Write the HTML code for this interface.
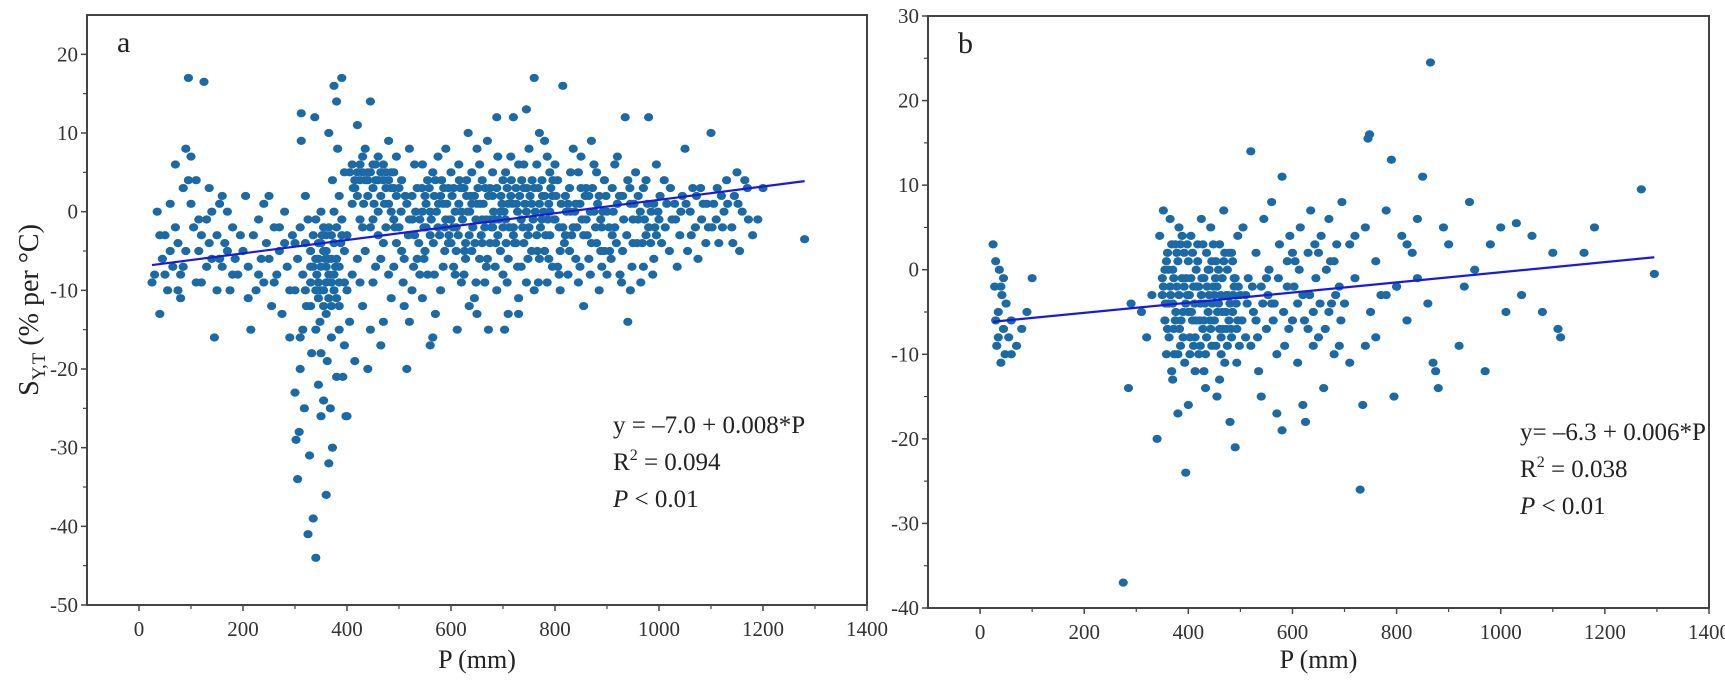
<!DOCTYPE html>
<html><head><meta charset="utf-8"><style>
html,body{margin:0;padding:0;background:#fff;}
svg{display:block;font-family:"Liberation Serif",serif;}
</style></head><body>
<svg id="chart" width="1725" height="686" viewBox="0 0 1725 686" xmlns="http://www.w3.org/2000/svg">
<g id="panelA"></g>
<g id="panelB"></g>
<text transform="translate(38,310) rotate(-90)" text-anchor="middle" font-size="28" fill="#222">S<tspan font-size="19" dy="7">Y,T</tspan><tspan dy="-7"> (% per °C)</tspan></text>
</svg>
<script>
const ticksX = [0,200,400,600,800,1000,1200,1400];
const ticksYA = [20,10,0,-10,-20,-30,-40,-50];
const ticksYB = [30,20,10,0,-10,-20,-30,-40];
const ptsA = [[25,-9],[30,-8],[35,0],[40,-13],[45,-6],[50,-3],[55,-10],[60,1],[65,-7],[70,6],[75,-4],[80,-8],[85,3],[90,8],[95,17],[100,7],[105,-2],[110,4],[115,-5],[120,-9],[125,16.5],[130,-1],[135,3],[140,-6],[145,-16],[150,-3],[155,1],[160,-7],[165,-4],[170,0],[175,-10],[180,-2],[185,-6],[190,-8],[195,-3],[60,-5],[70,-2],[80,-11],[90,-5],[100,1],[110,-9],[120,-3],[130,-7],[140,0],[150,-10],[160,2],[170,-5],[180,-8],[40,-3],[50,-8],[95,4],[115,-1],[135,-4],[155,-6],[75,-10],[85,-7],
[200,-5],[205,2],[210,-7],[215,-15],[220,-3],[225,-10],[230,-1],[235,-6],[240,-9],[245,-4],[250,2],[255,-12],[260,-2],[265,-8],[270,-5],[275,-13],[280,0],[285,-7],[290,-10],[295,-3],[230,-8],[250,-6],[270,-2],[290,-16],[210,-11],[260,-9],[280,-4],[240,1],
[300,-23],[302,-29],[305,-34],[308,-28],[310,-20],[312,9],[315,-15],[318,-25],[320,-10],[322,-12],[325,-41],[328,-31],[330,-5],[332,-18],[335,-39],[338,12],[340,-44],[342,-8],[345,-22],[348,-14],[350,-26],[352,-3],[355,-10],[358,-6],[360,-36],[362,-19],[365,-32],[368,-25],[370,-12],[372,4],[375,16],[378,-7],[380,-21],[382,8],[385,-15],[388,-4],[390,17],[392,-21],[395,-9],[398,-26],[305,-6],[310,-2],[315,-8],[320,-4],[325,-1],[330,-9],[335,-3],[340,-6],[345,-11],[350,-7],[355,-2],[360,-5],[365,-8],[370,-3],[375,-10],[380,-6],[385,-9],[390,-1],[395,-5],[330,-12],[340,-15],[350,-18],[360,-13],[370,-16],[345,-4],[355,-12],[365,-2],[375,0],[385,2],[395,5],[320,2],[310,-16],[300,-10],[300,-4],[312,12.5],[365,10],[380,14],[372,-30],[355,-24],[340,-1],[360,-9],[350,0],[380,-11],[395,-17],
[335,-7],[345,-9],[355,-5],[365,-6],[375,-4],[385,-7],[345,-6],[365,-11],[375,-8],[385,-12],[360,-3],[350,-10],[370,-9],[390,-3],[380,-2],[340,-10],[330,-7],[360,-7],[370,-6],[350,-4],
[400,-3],[405,5],[410,-8],[415,3],[420,11],[425,-1],[430,7],[435,-5],[440,2],[445,14],[450,-9],[455,4],[460,0],[465,-6],[470,6],[475,-2],[480,9],[485,-11],[490,3],[495,-4],[400,-10],[410,1],[420,-6],[430,-12],[440,-20],[450,6],[460,-3],[470,-14],[480,1],[490,-7],[405,-14],[415,-19],[425,4],[435,8],[445,-2],[455,-7],[465,2],[475,5],[485,0],[495,7],[410,6],[420,2],[430,-2],[440,5],[450,-1],[460,7],[470,-4],[480,-8],[490,-1],[400,-26],[425,-9],[445,-15],[465,-17],[485,3],
[415,4],[425,6],[435,4],[445,5],[455,6],[465,5],[475,3],[485,5],[495,2],[420,5],[430,5],[440,4],[450,3],[460,4],[470,4],[480,4],[490,5],[412,3],[432,1],[452,1],[472,1],[492,-2],
[500,-2],[505,4],[510,-6],[515,1],[520,8],[525,-10],[530,-3],[535,3],[540,-1],[545,6],[550,-5],[555,-8],[560,0],[565,5],[570,-13],[575,-2],[580,2],[585,-7],[590,8],[595,-4],[500,3],[510,-12],[520,-1],[530,6],[540,-8],[550,2],[560,-3],[570,4],[580,-10],[590,-1],[505,-5],[515,-20],[525,2],[535,-6],[545,0],[555,4],[565,-16],[575,7],[585,1],[595,3],[520,-14],[560,-17],[545,-11],
[600,-1],[605,3],[610,-5],[615,6],[620,0],[625,-8],[630,2],[635,-3],[640,5],[645,-11],[650,1],[655,-6],[660,4],[665,-2],[670,9],[675,-4],[680,2],[685,-7],[690,7],[695,0],[600,5],[610,-2],[620,-9],[630,4],[640,-5],[650,8],[660,-1],[670,-6],[680,5],[690,-3],[605,-7],[615,1],[625,3],[635,-12],[645,2],[655,6],[665,-9],[675,3],[685,-1],[695,-5],[600,-4],[620,3],[640,1],[660,-4],[680,-2],[700,4],[612,-15],[650,-13],[672,-15],[633,10],[688,12],
[700,-2],[705,5],[710,-6],[715,2],[720,12],[725,-4],[730,6],[735,-1],[740,3],[745,-9],[750,8],[755,1],[760,17],[765,-3],[770,10],[775,4],[780,-5],[785,7],[790,0],[795,-7],[700,-8],[710,1],[720,-3],[730,-11],[740,6],[750,-2],[760,3],[770,-6],[780,2],[790,5],[705,-1],[715,7],[725,3],[735,-7],[745,0],[755,-5],[765,6],[775,-1],[785,-9],[795,2],[710,-13],[730,-13],[760,-10],[780,9],[720,-2],[740,-4],[770,1],[790,-3],[703,-15],[745,13],
[800,-1],[805,4],[810,-5],[815,16],[820,2],[825,-8],[830,5],[835,-2],[840,1],[845,-9],[850,7],[855,-3],[860,3],[865,-6],[870,9],[875,0],[880,-4],[885,2],[890,-7],[895,4],[800,6],[810,-10],[820,-3],[830,0],[840,-6],[850,3],[860,-1],[870,-4],[880,5],[890,-2],[805,-7],[825,1],[845,5],[865,2],[885,-10],[815,-2],[835,8],[855,-12],[875,6],[895,-5],
[900,0],[905,-5],[910,3],[915,-2],[920,7],[925,-8],[930,2],[935,12],[940,-14],[945,1],[950,-4],[955,5],[960,-1],[965,-9],[970,3],[975,-3],[980,12],[985,0],[990,-6],[995,6],[900,-8],[910,-3],[920,1],[930,-5],[940,4],[950,-1],[960,2],[970,-7],[980,-2],[990,1],[915,6],[945,-10],[975,4],[995,-3],
[1000,-1],[1010,4],[1020,-5],[1030,1],[1040,-3],[1050,8],[1060,0],[1070,-2],[1080,3],[1090,-4],[1100,10],[1110,-1],[1120,2],[1130,4],[1140,-2],[1150,5],[1160,0],[1170,3],[1180,-3],[1200,3],[1005,-4],[1015,1],[1025,-1],[1035,-7],[1045,2],[1055,-5],[1065,3],[1075,-6],[1085,1],[1095,-2],[1105,1],[1115,-4],[1125,0],[1145,2],[1155,-5],[1165,4],[1190,-1],[1280,-3.5]];
const denseA = [[552,1],[558,3],[562,-1],[568,2],[572,0],[578,-3],[582,4],[588,-2],[592,1],[598,-1],[552,-2],[566,-4],[576,1],[586,3],[596,-3],[602,2],[608,0],[614,-3],[618,3],[622,-1],[628,-4],[632,0],[638,2],[642,-2],[648,-1],[652,3],[658,-3],[662,1],[668,-1],[672,2],[678,-2],[682,0],[688,3],[692,-1],[698,1],[604,-2],[616,4],[626,-5],[636,0],[646,-4],[656,1],[666,3],[676,-1],[686,-4],[696,2],
[702,0],[708,3],[712,-2],[718,1],[722,-4],[728,0],[732,2],[738,-2],[742,1],[748,-3],[752,2],[758,-1],[762,0],[768,3],[772,-2],[778,0],[782,-3],[788,1],[792,3],[798,-1],[706,-4],[716,4],[726,1],[736,4],[746,3],[756,4],[766,-5],[776,2],[786,-1],[796,4],
[802,2],[808,-2],[812,1],[818,-4],[822,0],[828,3],[832,-3],[838,0],[842,-2],[848,1],[852,-1],[858,2],[862,-3],[868,0],[872,3],[878,-2],[882,1],[888,-1],[892,0],[898,2],[904,-2],[912,0],[918,-4],[924,2],[932,-1],[938,-3],[944,3],[952,1],[958,-4],[964,0],[972,-1],[978,1],[984,-4],[992,-2],[998,0],
[504,0],[512,2],[518,-3],[526,-1],[532,0],[538,-4],[544,3],[548,-2],[508,-9],[528,-7],[548,-6],[568,-8],[588,-5],[608,-8],[628,-6],[648,-9],[668,-7],[688,-10],[708,-9],[728,-7],[748,-6],[768,-9],[788,-6],[808,-8],[828,-5],[848,-7],[868,-8],[888,-5],[908,-6],[928,-9],[948,-7],[968,-4],[988,-8],
[1002,2],[1012,-2],[1022,3],[1032,-1],[1042,0],[1052,1],[1062,-3],[1072,2],[1082,-1],[1092,1],[1102,-2],[1112,3],[1122,-2],[1132,1],[1142,-4],[1152,1],[1172,-1]];
const ptsB = [[25,3],[28,-2],[30,1],[32,-9],[35,-5],[37,0],[40,-11],[42,-3],[45,-7],[48,-10],[50,-4],[55,-8],[60,-6],[70,-9],[80,-7],[90,-5],[100,-1],[40,-2],[30,-6],[35,-8],[45,-1],[60,-10],
[275,-37],[285,-14],[290,-4],
[310,-5],[320,-8],[330,-3],[340,-20],[345,4],[350,-1],[352,7],[355,-6],[358,-10],[360,2],[362,-4],[365,6],[368,-12],[370,0],[372,-7],[375,3],[378,-2],[380,-17],[382,5],[385,-9],[388,-1],[390,-5],[392,2],[395,-24],[398,-3],[400,1],[403,-8],[405,4],[408,-6],[410,-2],[413,-12],[415,0],[418,3],[420,-10],[423,-4],[425,6],[428,-7],[430,-1],[433,-14],[435,2],[438,-5],[440,-3],[443,5],[445,-9],[448,-2],[450,-6],[453,1],[455,-15],[458,-4],[460,3],[463,-8],[465,-1],[468,7],[470,-11],[473,-3],[475,0],[478,-6],[480,-18],[483,2],[485,-5],[488,-2],[490,-21],[493,-7],[495,4],[498,-9],[350,-3],[360,-7],[370,-4],[380,1],[390,-8],[400,-5],[410,-9],[420,-2],[430,-6],[440,0],[450,-3],[460,-7],[470,2],[480,-4],[490,-1],[355,0],[365,-2],[375,-6],[385,3],[395,-4],[405,-1],[415,-6],[425,-3],[435,-8],[445,1],[455,-2],[465,-5],[475,-9],[485,1],[495,-6],[370,-13],[400,-16],[430,-12],[460,-13],[380,-10],
[500,-3],[505,5],[510,-8],[515,-1],[520,14],[525,-5],[530,2],[535,-12],[540,-2],[545,6],[550,-7],[555,0],[560,8],[565,-4],[570,-17],[575,3],[580,11],[585,-9],[590,-2],[595,4],[600,-6],[605,1],[610,-11],[615,5],[620,-3],[625,-18],[630,2],[635,7],[640,-5],[645,-1],[650,-8],[655,4],[660,-14],[665,0],[670,6],[675,-4],[680,-10],[685,3],[690,-2],[695,8],[510,-3],[530,-6],[550,-1],[570,-10],[590,1],[610,-4],[630,-7],[650,2],[670,-5],[690,-9],[520,-9],[560,-4],[600,2],[640,-9],[680,1],[540,-15],[580,-19],[620,-16],
[700,-4],[710,3],[720,-1],[730,-26],[735,-16],[740,5],[745,15.5],[748,16],[750,-5],[760,1],[770,-3],[780,7],[790,13],[795,-15],[800,-2],[810,4],[820,-6],[830,2],[840,-1],[850,11],[860,-4],[865,24.5],[870,-11],[875,-12],[880,-14],[890,5],[900,3],[920,-9],[930,-2],[940,8],[950,0],[970,-12],[980,3],[1000,5],[1010,-5],[1030,5.5],[1040,-3],[1060,4],[1080,-5],[1100,2],[1110,-7],[1115,-8],[1160,2],[1180,5],[1270,9.5],[1295,-0.5],[720,4],[760,-8],[800,-2],[820,3],[710,-11],[740,-9],[780,-3],[840,6]];
const denseB = [[352,-2],[356,-4],[362,0],[366,-3],[372,-1],[376,-5],[382,-3],[386,-6],[392,-2],[396,-1],[402,-3],[406,-5],[412,-4],[416,-2],[422,-6],[426,-1],[432,-4],[436,-2],[442,-6],[446,-4],[452,-1],[456,-5],[462,-3],[466,-7],[472,-5],[476,-3],[482,-7],[486,-3],[492,-4],[496,-2],[358,1],[368,3],[378,2],[388,4],[398,3],[408,2],[418,1],[428,3],[438,0],[448,3],[458,0],[468,1],[478,2],[488,-1],[363,-8],[373,-10],[383,-7],[393,-11],[403,-10],[413,-8],[423,-9],[433,-10],[443,-7],[453,-9],[463,-10],[473,-7],[483,-8],[493,-11],[503,-6],[513,-4],[523,-2],[533,-8],[543,-4],[553,-3],[563,-6],[573,-1],[583,-5],[593,-7],[603,-2],[613,0],[623,-6],[633,-3],[643,3],[653,-4],[663,-7],[673,1],[683,-3],[693,-6]];
const fitA = [-7.0, 0.0085, 25, 1280];
const fitB = [-6.3, 0.006, 25, 1295];

const NS = "http://www.w3.org/2000/svg";
function mk(parent, tag, attrs, txt){
  const e = document.createElementNS(NS, tag);
  for (const k in attrs) e.setAttribute(k, attrs[k]);
  if (txt !== undefined) e.textContent = txt;
  parent.appendChild(e);
  return e;
}
function drawPanel(g, box, yMin, yMax, yTicks, pts, fit, letter, eq, r2){
  const xs = v => box.l + (v + 100) / 1500 * (box.r - box.l);
  const ys = v => box.b - (v - yMin) / (yMax - yMin) * (box.b - box.t);
  const pg = mk(g, "g", {});
  
  
  pts.forEach(p => {
    const c = mk(pg, "ellipse", {cx: xs(p[0]), cy: ys(p[1]), rx: 4.6, ry: 4.1, fill: "#1b6aa5"});
    
    
  });
  const ln = mk(g, "line", {x1: xs(fit[2]), y1: ys(fit[0] + fit[1] * fit[2]), x2: xs(fit[3]), y2: ys(fit[0] + fit[1] * fit[3]), stroke: "#1a1adf", "stroke-width": 2.2});
  
  
  const fr = mk(g, "rect", {x: box.l, y: box.t, width: box.r - box.l, height: box.b - box.t, fill: "none", stroke: "#444", "stroke-width": 2});
  
  
  yTicks.forEach(v => {
    mk(g, "line", {x1: box.l - 6, x2: box.l, y1: ys(v), y2: ys(v), stroke: "#444", "stroke-width": 1.5});
    if (v - 5 >= yMin) mk(g, "line", {x1: box.l - 4, x2: box.l, y1: ys(v - 5), y2: ys(v - 5), stroke: "#444", "stroke-width": 1.2});
    const t = mk(g, "text", {x: box.l - 9, y: ys(v) + 7, "text-anchor": "end", "font-size": 21, fill: "#333"}, String(v));
    
    
  });
  ticksX.forEach(v => {
    mk(g, "line", {x1: xs(v), x2: xs(v), y1: box.b, y2: box.b + 6, stroke: "#444", "stroke-width": 1.5});
    if (v < 1400) mk(g, "line", {x1: xs(v + 100), x2: xs(v + 100), y1: box.b, y2: box.b + 4, stroke: "#444", "stroke-width": 1.2});
    const t = mk(g, "text", {x: xs(v), y: box.b + 31, "text-anchor": "middle", "font-size": 21, fill: "#333"}, String(v));
    
    
  });
  const xt = mk(g, "text", {x: (box.l + box.r) / 2, y: 668, "text-anchor": "middle", "font-size": 26, fill: "#222"}, "P (mm)");
  
  
  const pl = mk(g, "text", {x: box.l + 30, y: box.t + 37, "font-size": 30, fill: "#222"}, letter);
  
  
  const ex = eq.x, ey = eq.y;
  const e1 = mk(g, "text", {x: ex, y: ey, "font-size": 25, fill: "#222"}, eq.t);
  
  
  const e2 = mk(g, "text", {x: ex, y: ey + 37, "font-size": 25, fill: "#222"});
  
  
  e2.innerHTML = 'R<tspan font-size="16" dy="-10">2</tspan><tspan dy="10"> = ' + r2 + '</tspan>';
  const e3 = mk(g, "text", {x: ex, y: ey + 74, "font-size": 25, fill: "#222"});
  
  
  e3.innerHTML = '<tspan font-style="italic">P</tspan> &lt; 0.01';
}
drawPanel(document.getElementById('panelA'), {l: 87, r: 867, t: 15, b: 605}, -50, 25, ticksYA, ptsA.concat(denseA), fitA, "a", {x: 613, y: 433, t: "y = –7.0 + 0.008*P"}, "0.094");
drawPanel(document.getElementById('panelB'), {l: 928, r: 1709, t: 16, b: 608}, -40, 30, ticksYB, ptsB.concat(denseB), fitB, "b", {x: 1520, y: 440, t: "y= –6.3 + 0.006*P"}, "0.038");
</script>
</body></html>
